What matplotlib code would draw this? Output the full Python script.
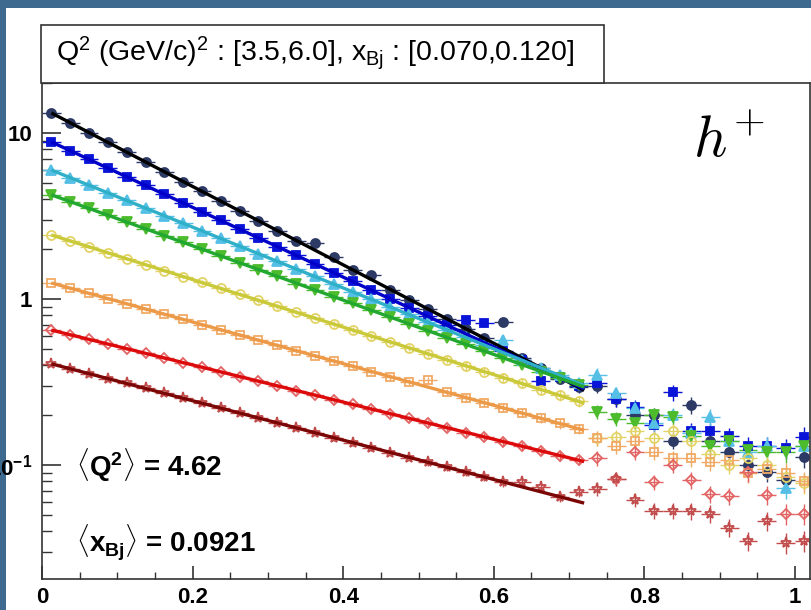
import numpy as np
import matplotlib.pyplot as plt
from matplotlib.patches import Rectangle
from matplotlib.ticker import FixedLocator, FixedFormatter, MultipleLocator, NullFormatter

plt.rcParams['font.family'] = ['Liberation Sans', 'DejaVu Sans']
plt.rcParams['mathtext.fontset'] = 'custom'
plt.rcParams['mathtext.rm'] = 'Liberation Sans'
plt.rcParams['mathtext.bf'] = 'Liberation Sans:bold'
plt.rcParams['mathtext.it'] = 'Liberation Sans:italic'

# bin centres (bin width 0.025)
z_bins = np.linspace(0.0125, 1.0125, 41)
half_bin = 0.0125

s1 = [13.2, 11.5, 10.0, 8.77, 7.66, 6.68, 5.83, 5.09, 4.45, 3.88, 3.39, 2.96, 2.58, 2.25, 2.17,
      1.79, 1.50, 1.40, 1.14, 0.99, 0.87, 0.76, 0.66, 0.58, 0.73, 0.44, 0.385, 0.33, 0.294,
      0.30, 0.25, 0.20, 0.20, 0.14, 0.23, 0.14, 0.12, 0.10, 0.091, 0.081, 0.112]
s2 = [8.83, 7.83, 6.93, 6.15, 5.45, 4.83, 4.28, 3.79, 3.36, 2.98, 2.64, 2.34, 2.07, 1.84, 1.63,
      1.44, 1.28, 1.13, 1.00, 0.888, 0.787, 0.697, 0.746, 0.716, 0.485, 0.43, 0.32, 0.337, 0.299,
      0.31, 0.25, 0.224, 0.174, 0.275, 0.16, 0.16, 0.15, 0.13, 0.13, 0.126, 0.148]
s3 = [5.98, 5.38, 4.85, 4.36, 3.93, 3.53, 3.18, 2.86, 2.57, 2.32, 2.08, 1.88, 1.69, 1.52, 1.37,
      1.23, 1.11, 0.996, 0.897, 0.807, 0.726, 0.653, 0.588, 0.529, 0.57, 0.428, 0.385, 0.347, 0.313,
      0.35, 0.27, 0.22, 0.18, 0.20, 0.155, 0.195, 0.14, 0.12, 0.13, 0.073, 0.13]
s4 = [4.24, 3.85, 3.51, 3.19, 2.91, 2.65, 2.41, 2.19, 2.00, 1.82, 1.65, 1.50, 1.37, 1.24, 1.13,
      1.03, 0.940, 0.855, 0.778, 0.708, 0.644, 0.586, 0.534, 0.485, 0.442, 0.403, 0.366, 0.333, 0.303,
      0.21, 0.19, 0.18, 0.20, 0.195, 0.15, 0.13, 0.14, 0.123, 0.12, 0.12, 0.13]
s5 = [2.43, 2.24, 2.06, 1.90, 1.75, 1.61, 1.48, 1.36, 1.26, 1.16, 1.07, 0.982, 0.904, 0.833, 0.767,
      0.706, 0.650, 0.598, 0.552, 0.508, 0.468, 0.431, 0.396, 0.365, 0.336, 0.310, 0.285, 0.263, 0.242,
      0.145, 0.148, 0.16, 0.145, 0.16, 0.14, 0.117, 0.10, 0.11, 0.10, 0.085, 0.078]
s6 = [1.25, 1.16, 1.08, 1.00, 0.935, 0.869, 0.809, 0.753, 0.701, 0.652, 0.607, 0.565, 0.525, 0.489, 0.455,
      0.423, 0.394, 0.366, 0.341, 0.317, 0.325, 0.275, 0.255, 0.238, 0.221, 0.206, 0.191, 0.178, 0.166,
      0.145, 0.13, 0.14, 0.12, 0.11, 0.11, 0.105, 0.107, 0.09, 0.095, 0.09, 0.08]
s7 = [0.650, 0.610, 0.571, 0.536, 0.502, 0.471, 0.442, 0.414, 0.388, 0.364, 0.341, 0.320, 0.300, 0.281, 0.264,
      0.247, 0.232, 0.217, 0.204, 0.191, 0.179, 0.168, 0.157, 0.148, 0.138, 0.130, 0.122, 0.114, 0.107,
      0.11, 0.083, 0.12, 0.079, 0.10, 0.081, 0.067, 0.065, 0.091, 0.066, 0.051, 0.051]
s8 = [0.407, 0.380, 0.356, 0.332, 0.310, 0.290, 0.270, 0.252, 0.236, 0.220, 0.206, 0.192, 0.179, 0.168, 0.156,
      0.146, 0.136, 0.127, 0.119, 0.111, 0.104, 0.0969, 0.0906, 0.0845, 0.0789, 0.079, 0.074, 0.0643, 0.069,
      0.072, 0.083, 0.062, 0.053, 0.053, 0.053, 0.051, 0.042, 0.035, 0.046, 0.034, 0.035]

# relative stat. errors per bin
rel_err = [0.02, 0.02, 0.02, 0.02, 0.02, 0.02, 0.02, 0.02, 0.03, 0.03, 0.03, 0.03, 0.03, 0.03, 0.03,
           0.04, 0.04, 0.04, 0.04, 0.04, 0.05, 0.05, 0.05, 0.05, 0.06, 0.06, 0.06, 0.07, 0.07,
           0.10, 0.10, 0.10, 0.11, 0.11, 0.12, 0.12, 0.12, 0.13, 0.13, 0.14, 0.14]

# exponential fits: value at the start and at the end of the fit range
fit_range = [0.0125, 0.72]
fit_lo = [13.2, 8.83, 5.98, 4.24, 2.43, 1.25, 0.650, 0.407]
fit_hi = [0.282, 0.288, 0.302, 0.295, 0.236, 0.162, 0.105, 0.059]

series = [s1, s2, s3, s4, s5, s6, s7, s8]
markers = ['o', 's', '^', 'v', 'o', 's', 'D', '*']
filled = [True, True, True, True, False, False, False, False]
mcolors = ['#2e3a66', '#0a14d8', '#55bfe6', '#4cbb2c', '#e3d366', '#f0aa66', '#e26464', '#c24c4c']
lcolors = ['#000000', '#0000c8', '#2fb0c8', '#22a830', '#c9c93a', '#ec9a48', '#dc0a0a', '#7a0606']
msizes = [6.5, 6.0, 6.5, 6.5, 6.5, 6.0, 5.5, 8.0]

fig = plt.figure(figsize=(8.11, 6.10), dpi=100)
fig.patch.set_facecolor('#3f6a90')
fig.patches.append(Rectangle((6 / 811, 0), 1, 1 - 8 / 610, transform=fig.transFigure,
                             facecolor='white', edgecolor='none', zorder=-5))

ax = fig.add_axes([42 / 811, 31 / 610, 1.02 * 753 / 811, 496 / 610])
ax.set_yscale('log')
ax.set_xlim(0, 1.02)
ax.set_ylim(0.0206, 20.0)

for vals, m, fl, mc, ms in zip(series, markers, filled, mcolors, msizes):
    vals = np.array(vals)
    ax.errorbar(z_bins, vals, xerr=half_bin, yerr=vals * np.array(rel_err), fmt=m, ms=ms,
                mfc=mc if fl else 'none', mec=mc, mew=1.3, ecolor=mc, elinewidth=1.0,
                capsize=0, zorder=2)

for lo, hi, lc in zip(fit_lo, fit_hi, lcolors):
    ax.plot(fit_range, [lo, hi], color=lc, lw=2.4, solid_capstyle='butt', zorder=3)

for sp in ax.spines.values():
    sp.set_color('#333333')
    sp.set_linewidth(1.2)

ax.xaxis.set_major_locator(FixedLocator([0, 0.2, 0.4, 0.6, 0.8, 1.0]))
ax.xaxis.set_major_formatter(FixedFormatter(['0', '0.2', '0.4', '0.6', '0.8', '1']))
ax.xaxis.set_minor_locator(MultipleLocator(0.05))
ax.yaxis.set_major_locator(FixedLocator([0.1, 1, 10]))
ax.yaxis.set_major_formatter(FixedFormatter([r'10$^{\mathbf{-1}}$', '1', '10']))
ax.yaxis.set_minor_locator(FixedLocator([k * d for d in (0.01, 0.1, 1, 10) for k in range(2, 10)]))
ax.yaxis.set_minor_formatter(NullFormatter())
ax.tick_params(axis='x', which='major', direction='in', length=9.5, width=1.2, pad=6,
               labelsize=16, color='#333333')
ax.tick_params(axis='x', which='minor', direction='in', length=5, width=1.0, color='#333333')
ax.tick_params(axis='y', which='major', direction='in', length=14, width=1.2, pad=7,
               labelsize=16, color='#333333')
ax.tick_params(axis='y', which='minor', direction='in', length=7, width=1.0, color='#333333')
for lab in ax.get_xticklabels() + ax.get_yticklabels():
    lab.set_fontweight('bold')

# title box
fig.patches.append(Rectangle((41 / 811, 1 - 83 / 610), 563 / 811, 58 / 610, transform=fig.transFigure,
                             facecolor='white', edgecolor='#333333', lw=1.2, zorder=5))
fig.text(56 / 811, 1 - 53 / 610, r'Q$^{2}$ (GeV/c)$^{2}$ : [3.5,6.0], x$_{\rm Bj}$ : [0.070,0.120]',
         fontsize=20.5, va='center', ha='left', zorder=6)

ax.text(0.045, 0.1, r'$\langle\mathbf{Q}^{\mathbf{2}}\rangle$ = 4.62', fontsize=20, fontweight='bold',
        ha='left', va='center')
ax.text(0.045, 0.034, r'$\langle\mathbf{x}_{\mathbf{Bj}}\rangle$ = 0.0921', fontsize=20, fontweight='bold',
        ha='left', va='center')
ax.text(0.865, 8.8, r'$h^{+}$', fontsize=42, math_fontfamily='cm', ha='left', va='center')

fig.savefig('out.png', dpi=100, facecolor=fig.get_facecolor())
